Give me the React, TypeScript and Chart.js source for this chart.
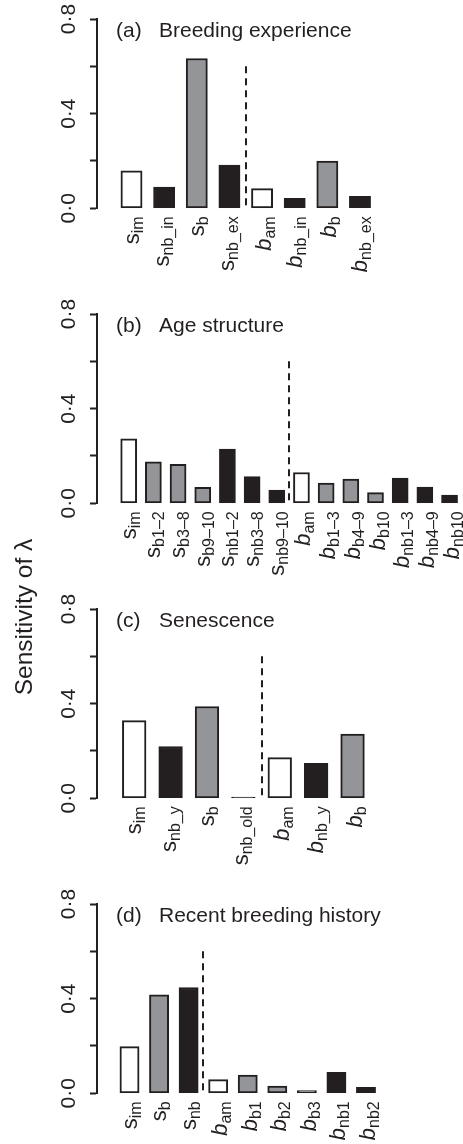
import React, { useEffect, useRef } from "react";
import { Chart, registerables } from "chart.js";

Chart.register(...registerables);

const FONT = '"Liberation Sans", Arial, Helvetica, sans-serif';
const INK = "#231f20";
const GREY = "#939598";
const WHITE = "#ffffff";

// y axis
const yTickValues = [0, 0.4, 0.8];
const yTickLabels = ["0·0", "0·4", "0·8"];
const yAxisTitle = "Sensitivity of λ";

// (a) Breeding experience
const titleA = "Breeding experience";
const mainA = ["s", "s", "s", "s", "b", "b", "b", "b"];
const subA = ["im", "nb_in", "b", "nb_ex", "am", "nb_in", "b", "nb_ex"];
const valuesA = [0.158, 0.09, 0.633, 0.183, 0.083, 0.042, 0.2, 0.051];

// (b) Age structure
const titleB = "Age structure";
const mainB = ["s", "s", "s", "s", "s", "s", "s", "b", "b", "b", "b", "b", "b", "b"];
const subB = ["im", "b1–2", "b3–8", "b9–10", "nb1–2", "nb3–8", "nb9–10", "am", "b1–3", "b4–9", "b10", "nb1–3", "nb4–9", "nb10"];
const valuesB = [0.272, 0.175, 0.165, 0.068, 0.229, 0.113, 0.056, 0.13, 0.085, 0.102, 0.045, 0.107, 0.069, 0.035];

// (c) Senescence
const titleC = "Senescence";
const mainC = ["s", "s", "s", "s", "b", "b", "b"];
const subC = ["im", "nb_y", "b", "nb_old", "am", "nb_y", "b"];
const valuesC = [0.328, 0.219, 0.388, 0.005, 0.172, 0.148, 0.271];

// (d) Recent breeding history
const titleD = "Recent breeding history";
const mainD = ["s", "s", "s", "b", "b", "b", "b", "b", "b"];
const subD = ["im", "b", "nb", "am", "b1", "b2", "b3", "nb1", "nb2"];
const valuesD = [0.197, 0.416, 0.447, 0.058, 0.077, 0.031, 0.011, 0.089, 0.025];

const fillFor = (sub: string) => (sub.startsWith("nb") ? INK : sub.startsWith("b") ? GREY : WHITE);

type Panel = {
  letter: string;
  title: string;
  main: string[];
  sub: string[];
  values: number[];
  split: number;
  top: number;
  height: number;
  firstCenter: number;
  slot: number;
};

const panels: Panel[] = [
  { letter: "(a)", title: titleA, main: mainA, sub: subA, values: valuesA, split: 4, top: 0, height: 295, firstCenter: 131.5, slot: 32.64 },
  { letter: "(b)", title: titleB, main: mainB, sub: subB, values: valuesB, split: 7, top: 295, height: 295, firstCenter: 128.7, slot: 24.68 },
  { letter: "(c)", title: titleC, main: mainC, sub: subC, values: valuesC, split: 4, top: 590, height: 295, firstCenter: 134.2, slot: 36.39 },
  { letter: "(d)", title: titleD, main: mainD, sub: subD, values: valuesD, split: 3, top: 885, height: 259, firstCenter: 129.5, slot: 29.56 },
];

const AXIS_X = 97;
const RIGHT_X = 460;
const AREA_TOP = 19;
const AREA_BOTTOM = 208.3;

function PanelChart({ p }: { p: Panel }) {
  const ref = useRef<HTMLCanvasElement | null>(null);
  useEffect(() => {
    if (!ref.current) return;
    const xmin = -(p.firstCenter - AXIS_X) / p.slot;
    const xmax = xmin + (RIGHT_X - AXIS_X) / p.slot;
    const decor = {
      id: "decor",
      afterDraw(chart: any) {
        const { ctx, chartArea } = chart;
        const xs = chart.scales.x;
        const ys = chart.scales.y;
        ctx.save();
        ctx.fillStyle = INK;
        // y tick labels
        ctx.font = `21px ${FONT}`;
        ctx.textAlign = "center";
        ctx.textBaseline = "alphabetic";
        yTickValues.forEach((v, i) => {
          ctx.save();
          ctx.translate(chartArea.left - 22, ys.getPixelForValue(v));
          ctx.rotate(-Math.PI / 2);
          ctx.fillText(yTickLabels[i], 0, 0);
          ctx.restore();
        });
        // title
        ctx.textAlign = "left";
        ctx.font = `21px ${FONT}`;
        ctx.fillText(p.letter, chartArea.left + 19, chartArea.top + 18);
        ctx.fillText(p.title, chartArea.left + 62, chartArea.top + 18);
        // dashed separator
        ctx.strokeStyle = INK;
        ctx.lineWidth = 2;
        ctx.setLineDash([7, 5]);
        const dx = Math.round(xs.getPixelForValue(p.split - 0.5));
        ctx.beginPath();
        ctx.moveTo(dx, ys.getPixelForValue(0.6));
        ctx.lineTo(dx, ys.getPixelForValue(0));
        ctx.stroke();
        ctx.setLineDash([]);
        // category labels
        const subShift = 4;
        p.main.forEach((m, i) => {
          const mainFont = `${m === "b" ? "italic " : ""}22px ${FONT}`;
          const subFont = `16px ${FONT}`;
          ctx.font = mainFont;
          const mm = ctx.measureText(m);
          ctx.font = subFont;
          const sm = ctx.measureText(p.sub[i]);
          const topY = Math.min(-mm.actualBoundingBoxAscent, subShift - sm.actualBoundingBoxAscent);
          const botY = Math.max(mm.actualBoundingBoxDescent, subShift + sm.actualBoundingBoxDescent);
          const centerOff = (topY + botY) / 2;
          const cx = xs.getPixelForValue(i) + 3 - centerOff;
          const total = mm.width + sm.width;
          ctx.save();
          ctx.translate(cx, chartArea.bottom + 8);
          ctx.rotate(-Math.PI / 2);
          ctx.textAlign = "left";
          ctx.font = mainFont;
          ctx.fillText(m, -total, 0);
          ctx.font = subFont;
          ctx.fillText(p.sub[i], -total + mm.width, subShift);
          ctx.restore();
        });
        ctx.restore();
      },
    };
    const chart = new Chart(ref.current, {
      type: "bar",
      data: {
        datasets: [
          {
            data: p.values.map((v, i) => ({ x: i, y: v })),
            backgroundColor: p.sub.map(fillFor),
            borderColor: INK,
            borderWidth: 2,
            borderSkipped: false,
            barThickness: p.slot * 0.65,
          },
        ],
      },
      options: {
        animation: false,
        responsive: false,
        events: [],
        layout: { padding: { top: AREA_TOP, bottom: p.height - AREA_BOTTOM, left: 0, right: 463 - RIGHT_X } },
        plugins: { legend: { display: false }, tooltip: { enabled: false } },
        scales: {
          x: { type: "linear", display: false, min: xmin, max: xmax, offset: false, ticks: { stepSize: 1, includeBounds: false } },
          y: {
            type: "linear",
            min: 0,
            max: 0.8,
            afterFit(s: any) {
              s.width = AXIS_X;
            },
            ticks: { display: false, stepSize: 0.2 },
            grid: { display: true, drawOnChartArea: false, drawTicks: true, tickLength: 7, tickWidth: 2, tickColor: INK },
            border: { display: true, width: 2, color: INK },
          },
        },
      } as any,
      plugins: [decor],
    });
    return () => chart.destroy();
  }, [p]);
  return (
    <canvas
      ref={ref}
      width={463}
      height={p.height}
      style={{ position: "absolute", left: 0, top: p.top, width: 463, height: p.height }}
    />
  );
}

export default function App() {
  return (
    <div style={{ position: "absolute", left: 0, top: 0, width: 463, height: 1144, background: "#fff", overflow: "hidden" }}>
      {panels.map((p) => (
        <PanelChart key={p.letter} p={p} />
      ))}
      <div
        style={{
          position: "absolute",
          left: 12,
          top: 767,
          width: 300,
          textAlign: "center",
          transform: "rotate(-90deg)",
          transformOrigin: "0 0",
          whiteSpace: "nowrap",
          fontFamily: FONT,
          fontSize: 24.5,
          lineHeight: 1,
          color: INK,
        }}
      >
        {yAxisTitle}
      </div>
    </div>
  );
}
